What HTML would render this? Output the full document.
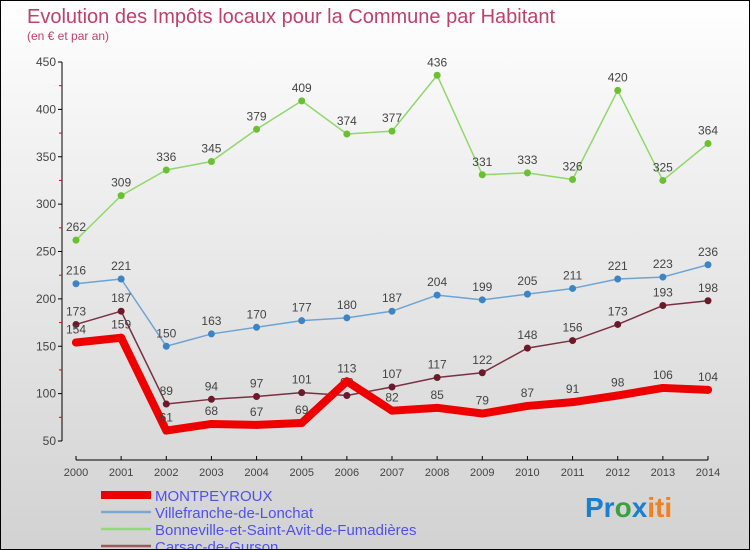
<!DOCTYPE html>
<html><head><meta charset="utf-8"><style>
body{margin:0;}
#c{position:relative;width:748px;height:548px;border:1px solid #000;background:linear-gradient(#ffffff,#f0f0f0 30%,#d2d2d2);overflow:hidden;font-family:"Liberation Sans",sans-serif;}
svg text{font-family:"Liberation Sans",sans-serif;}
</style></head><body>
<div id="c">
<svg id="s" width="748" height="548">
<text x="26" y="22" font-size="20" fill="#c0406a">Evolution des Impôts locaux pour la Commune par Habitant</text>
<text x="26" y="39" font-size="12" fill="#c0406a">(en € et par an)</text>
<g id="axes"></g><g id="series"></g><g id="legend"></g>
<text x="584" y="516" font-size="28" font-weight="bold"><tspan fill="#1a7fd0">Pr</tspan><tspan fill="#3aa040">o</tspan><tspan fill="#1a7fd0">x</tspan><tspan fill="#f08020">iti</tspan></text>
</svg></div>
<script>
const years=[2000,2001,2002,2003,2004,2005,2006,2007,2008,2009,2010,2011,2012,2013,2014];
const yTicks=[50,100,150,200,250,300,350,400,450];
const montpeyroux=[154,159,61,68,67,69,113,82,85,79,87,91,98,106,104];
const villefranche=[216,221,150,163,170,177,180,187,204,199,205,211,221,223,236];
const bonneville=[262,309,336,345,379,409,374,377,436,331,333,326,420,325,364];
const carsac=[173,187,89,94,97,101,98,107,117,122,148,156,173,193,198];
const names=["MONTPEYROUX","Villefranche-de-Lonchat","Bonneville-et-Saint-Avit-de-Fumadières","Carsac-de-Gurson"];
const NS="http://www.w3.org/2000/svg";
function X(i){return 75+i*(707-75)/14;}
function Y(v){return 440-(v-50)*(440-61)/400;}
function mk(t,a,p){const e=document.createElementNS(NS,t);for(const k in a)e.setAttribute(k,a[k]);p.appendChild(e);return e;}
const ax=document.getElementById('axes');
mk('line',{x1:61,y1:Y(450),x2:61,y2:Y(50),stroke:'#000'},ax);
mk('line',{x1:75,y1:459,x2:707,y2:459,stroke:'#000'},ax);
yTicks.forEach(v=>{
 mk('line',{x1:57,y1:Y(v),x2:61,y2:Y(v),stroke:'#000'},ax);
 const t=mk('text',{x:55,y:Y(v)+4,'font-size':12,fill:'#444','text-anchor':'end'},ax);t.textContent=v;
 
 
 if(v<450) mk('line',{x1:58,y1:Y(v+25),x2:61,y2:Y(v+25),stroke:'#e00'},ax);
});
years.forEach((y,i)=>{
 mk('line',{x1:X(i),y1:455,x2:X(i),y2:459,stroke:'#000'},ax);
 const t=mk('text',{x:X(i),y:475,'font-size':11,fill:'#444','text-anchor':'middle'},ax);t.textContent=y;
 
 
});
const sg=document.getElementById('series');
const defs=[[bonneville,'#8fd86a','#6ac030',1.5,'bonneville'],[villefranche,'#6ca4d4','#3c84c4',1.5,'villefranche'],[carsac,'#7a3040','#6a1a2a',1.5,'carsac'],[montpeyroux,'#ee0000','#ee0000',8,'montpeyroux']];
defs.forEach(([d,c,dc,w,n])=>{
 const g=mk('g',{},sg);
 
 
 mk('polyline',{points:d.map((v,i)=>X(i)+','+Y(v)).join(' '),fill:'none',stroke:c,'stroke-width':w,'stroke-linejoin':'round','stroke-linecap':'round'},g);
 d.forEach((v,i)=>{
  const p=mk('circle',{cx:X(i),cy:Y(v),r:w>4?4:3.5,fill:dc},g);
  
  
  const t=mk('text',{x:X(i),y:Y(v)-9,'font-size':12,fill:'#444','text-anchor':'middle'},g);t.textContent=v;
  
  
 });
});
const lg=document.getElementById('legend');
const lc=[['#ee0000',8],['#7ca8d0',2.5],['#96d878',2.5],['#9a5a5a',2.5]];
names.forEach((n,i)=>{
 const y=494+i*17;
 const g=mk('g',{},lg);
 
 
 mk('line',{x1:100,y1:y,x2:150,y2:y,stroke:lc[i][0],'stroke-width':lc[i][1]},g);
 const t=mk('text',{x:154,y:y+6,'font-size':15,fill:'#5050ee'},g);t.textContent=n;
});
</script>
</body></html>
